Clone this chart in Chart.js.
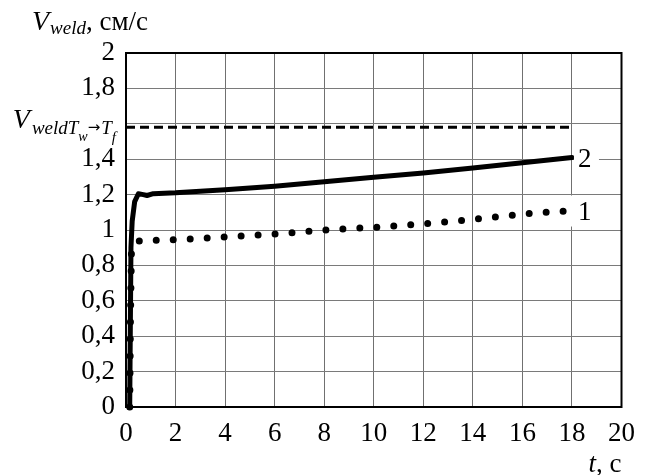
<!DOCTYPE html>
<html>
<head>
<meta charset="utf-8">
<script src="https://cdn.jsdelivr.net/npm/chart.js@4.4.1/dist/chart.umd.min.js"></script>
<style>
	html, body { margin: 0; padding: 0; background: #fff; }
	#wrap { width: 646px; height: 475px; position: relative; }
</style>
</head>
<body>
<div id="wrap"><canvas id="chart"></canvas></div>
<script>
(function () {
	'use strict';

	/* ---------- Data ---------- */

	// curve 1 (dotted): t, V
	var T1 = [0.15, 0.18, 0.22, 0.35, 0.6, 2, 3, 6, 8, 10, 12, 14, 16, 18];
	var V1 = [0, 0.5, 0.88, 0.93, 0.94, 0.945, 0.952, 0.977, 1.0, 1.015, 1.035, 1.06, 1.09, 1.11];

	// curve 2 (solid)
	var T2 = [0.15, 0.2, 0.25, 0.35, 0.5, 0.7, 0.85, 1.1, 2, 4, 6, 8, 10, 12, 14, 16, 18];
	var V2 = [0, 0.9, 1.05, 1.16, 1.205, 1.2, 1.195, 1.205, 1.21, 1.228, 1.247, 1.272, 1.298, 1.322, 1.35, 1.38, 1.41];

	// limit V_weld T_w -> T_f (dashed)
	var T_LIMIT = [0, 18];
	var V_LIMIT = [1.58, 1.58];

	var CURVE_LABELS = ['1', '2'];
	var X_TICKS = [0, 2, 4, 6, 8, 10, 12, 14, 16, 18, 20];
	// 1,6 is left out: the limit label sits in its place
	var Y_TICK_LABELS = ['0', '0,2', '0,4', '0,6', '0,8', '1', '1,2', '1,4', '', '1,8', '2'];

	var FONT = '"Liberation Serif", "Times New Roman", serif';
	var SIZE = 27;

	function pts(xs, ys) {
		return xs.map(function (x, i) { return { x: x, y: ys[i] }; });
	}

	/* ---------- Text plugin ---------- */

	function fontOf(p) {
		return (p.italic ? 'italic ' : '') + p.size + 'px ' + (p.family || FONT);
	}

	function runs(ctx, parts, x, baseY) {
		parts.forEach(function (p) {
			ctx.font = fontOf(p);
			ctx.fillText(p.text, x, baseY + (p.dy || 0));
			x += ctx.measureText(p.text).width + (p.gap || 0);
		});
		return x;
	}

	function runsWidth(ctx, parts) {
		var w = 0;
		parts.forEach(function (p) {
			ctx.font = fontOf(p);
			w += ctx.measureText(p.text).width + (p.gap || 0);
		});
		return w;
	}

	var textPlugin = {
		id: 'texts',
		beforeDatasetsDraw: function (chart) {
			var ctx = chart.ctx;
			var a = chart.chartArea;
			ctx.save();
			ctx.strokeStyle = '#000';
			ctx.lineWidth = 2;
			ctx.strokeRect(a.left, a.top, a.right - a.left, a.bottom - a.top);
			ctx.restore();
		},
		afterDatasetsDraw: function (chart) {
			var ctx = chart.ctx;
			var a = chart.chartArea;
			var xs = chart.scales.x;
			var ys = chart.scales.y;
			ctx.save();
			ctx.fillStyle = '#000';
			ctx.textBaseline = 'alphabetic';
			ctx.textAlign = 'left';

			// y axis title
			runs(ctx, [
				{ text: 'V', italic: true, size: 28, gap: 1 },
				{ text: 'weld', italic: true, size: 19, dy: 4 },
				{ text: ', см/с', size: SIZE }
			], 32, 30);

			// x axis title
			var xt = [
				{ text: 't', italic: true, size: SIZE },
				{ text: ', с', size: SIZE }
			];
			runs(ctx, xt, a.right - runsWidth(ctx, xt), 472);

			// dashed line label
			var lim = [
				{ text: 'V', italic: true, size: 28, gap: 2 },
				{ text: 'weld', italic: true, size: 19, dy: 6 },
				{ text: 'T', italic: true, size: 19, dy: 6 },
				{ text: 'w', italic: true, size: 14, dy: 13 },
				{ text: '→', size: 15, family: '"DejaVu Sans", sans-serif', dy: 4, gap: 1 },
				{ text: 'T', italic: true, size: 19, dy: 6 },
				{ text: 'f', italic: true, size: 15, dy: 14 }
			];
			var ly = ys.getPixelForValue(V_LIMIT[0]);
			runs(ctx, lim, a.left - 10 - runsWidth(ctx, lim), ly + 1);

			// curve labels with white boxes
			var ends = [
				{ x: T1[T1.length - 1], y: V1[V1.length - 1], bx: -2, bw: 25, top: -15, bh: 31 },
				{ x: T2[T2.length - 1], y: V2[V2.length - 1], bx: 2, bw: 25, top: -14, bh: 28 }
			];
			ctx.font = SIZE + 'px ' + FONT;
			ends.forEach(function (e, i) {
				var px = xs.getPixelForValue(e.x);
				var py = ys.getPixelForValue(e.y);
				ctx.fillStyle = '#fff';
				ctx.fillRect(px + e.bx, py + e.top, e.bw, e.bh);
				ctx.fillStyle = '#000';
				ctx.textBaseline = 'middle';
				ctx.fillText(CURVE_LABELS[i], px + 6, py + 2);
			});
			ctx.restore();
		}
	};

	/* ---------- Chart ---------- */

	var ctx = document.getElementById('chart');

	new Chart(ctx, {
		type: 'line',
		data: {
			datasets: [
				{
					label: 'limit',
					data: pts(T_LIMIT, V_LIMIT),
					borderColor: '#000',
					borderWidth: 3,
					borderDash: [9, 5],
					pointRadius: 0,
					fill: false,
					order: 3
				},
				{
					label: '1',
					data: pts(T1, V1),
					borderColor: '#000',
					borderWidth: 7,
					borderDash: [0, 17],
					borderCapStyle: 'round',
					pointRadius: 0,
					fill: false,
					clip: false,
					order: 2
				},
				{
					label: '2',
					data: pts(T2, V2),
					borderColor: '#000',
					borderWidth: 5,
					borderCapStyle: 'round',
					borderJoinStyle: 'round',
					pointRadius: 0,
					fill: false,
					clip: false,
					order: 1
				}
			]
		},
		options: {
			responsive: true,
			maintainAspectRatio: false,
			animation: false,
			layout: { padding: { top: 53, right: 14, left: 0, bottom: 0 } },
			plugins: {
				legend: { display: false },
				tooltip: { enabled: false }
			},
			scales: {
				x: {
					type: 'linear',
					min: 0,
					max: 20,
					afterBuildTicks: function (scale) {
						scale.ticks = X_TICKS.map(function (v) { return { value: v }; });
					},
					afterFit: function (scale) { scale.height = 68; },
					ticks: {
						color: '#000',
						padding: 11,
						maxRotation: 0,
						font: { family: FONT, size: SIZE },
						callback: function (v) { return String(v); }
					},
					grid: { color: '#707070', lineWidth: 1, drawTicks: false },
					border: { display: false }
				},
				y: {
					type: 'linear',
					min: 0,
					max: 2,
					ticks: {
						stepSize: 0.2,
						color: '#000',
						padding: 11,
						font: { family: FONT, size: SIZE },
						callback: function (v) {
							return Y_TICK_LABELS[Math.round(v / 0.2)];
						}
					},
					afterFit: function (scale) { scale.width = 126; },
					grid: { color: '#7a7a7a', lineWidth: 1, drawTicks: false },
					border: { display: false }
				}
			}
		},
		plugins: [textPlugin]
	});
})();
</script>
</body>
</html>
